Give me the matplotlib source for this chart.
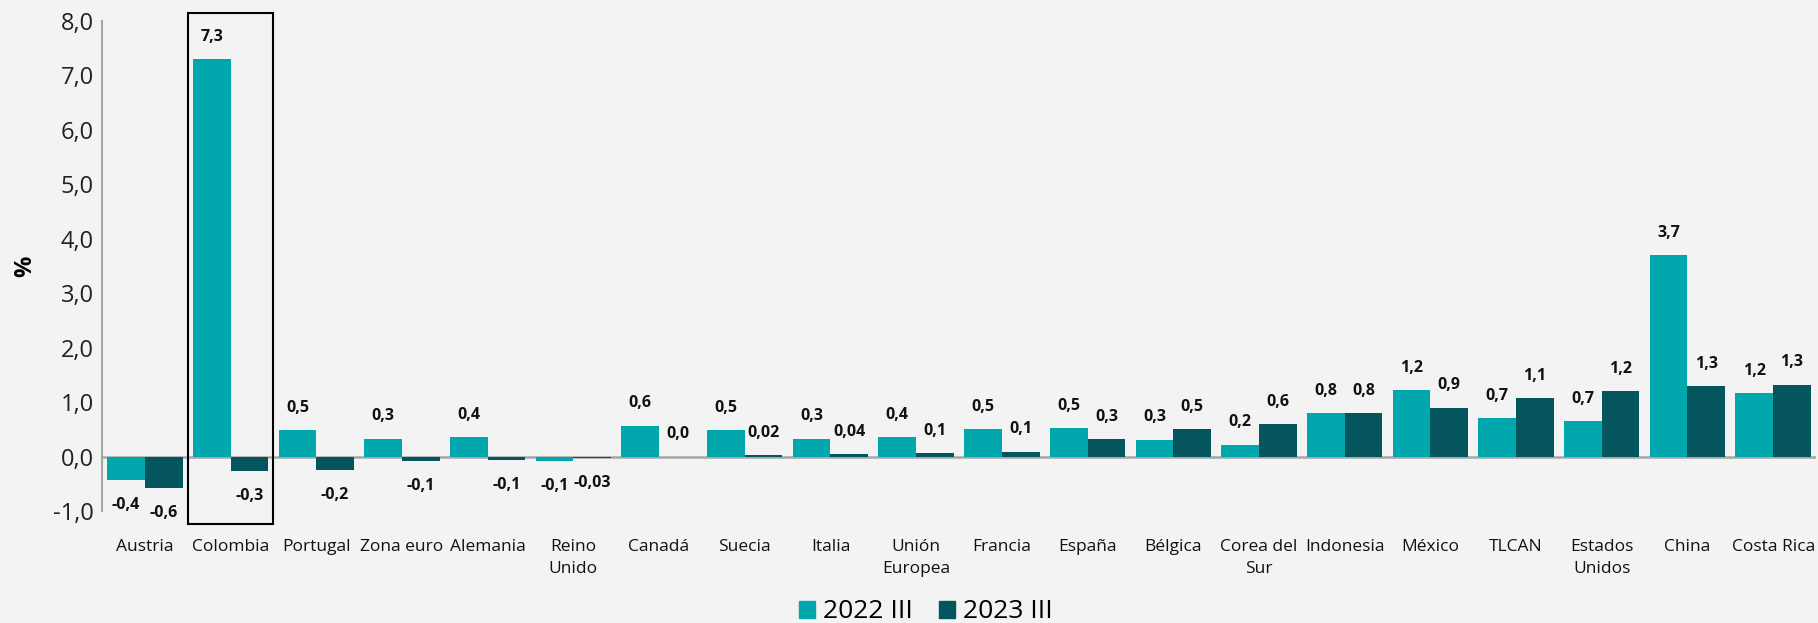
import matplotlib
matplotlib.use("Agg")
import matplotlib.pyplot as plt
from matplotlib.patches import Rectangle, Patch
import numpy as np

plt.rcParams['font.family'] = ['Open Sans', 'DejaVu Sans']

categories = ["Austria", "Colombia", "Portugal", "Zona euro", "Alemania", "Reino\nUnido",
              "Canadá", "Suecia", "Italia", "Unión\nEuropea", "Francia", "España", "Bélgica",
              "Corea del\nSur", "Indonesia", "México", "TLCAN", "Estados\nUnidos", "China", "Costa Rica"]
values_2022 = [-0.43, 7.3, 0.48, 0.33, 0.36, -0.09, 0.57, 0.48, 0.33, 0.36, 0.5, 0.52, 0.31,
               0.22, 0.8, 1.22, 0.7, 0.65, 3.7, 1.17]
values_2023 = [-0.57, -0.27, -0.24, -0.09, -0.07, -0.03, 0.0, 0.02, 0.04, 0.07, 0.09, 0.32, 0.5,
               0.6, 0.8, 0.9, 1.07, 1.2, 1.3, 1.32]
labels_2022 = ["-0,4", "7,3", "0,5", "0,3", "0,4", "-0,1", "0,6", "0,5", "0,3", "0,4", "0,5", "0,5",
               "0,3", "0,2", "0,8", "1,2", "0,7", "0,7", "3,7", "1,2"]
labels_2023 = ["-0,6", "-0,3", "-0,2", "-0,1", "-0,1", "-0,03", "0,0", "0,02", "0,04", "0,1", "0,1",
               "0,3", "0,5", "0,6", "0,8", "0,9", "1,1", "1,2", "1,3", "1,3"]
series_names = ["2022 III", "2023 III"]
yticks = [-1, 0, 1, 2, 3, 4, 5, 6, 7, 8]

c1 = "#00A8AE"
c2 = "#05555E"
bg = "#F3F3F3"

fig = plt.figure(figsize=(18.18, 6.23), dpi=100, facecolor=bg)
ax = fig.add_axes([102/1818, 1-511/623, (1816-102)/1818, (511-21)/623])
ax.set_facecolor(bg)

x = np.arange(len(categories))
w = 0.44
b1 = ax.bar(x - w/2, values_2022, w, color=c1)
b2 = ax.bar(x + w/2, values_2023, w, color=c2)

for bars, vals, labs in ((b1, values_2022, labels_2022), (b2, values_2023, labels_2023)):
    for bar, v, lab in zip(bars, vals, labs):
        cx = bar.get_x() + bar.get_width()/2
        off = 16 if v >= 0 else -18
        ax.annotate(lab, (cx, v), xytext=(0, off), textcoords="offset points",
                    ha="center", va="center", fontsize=11.5, fontweight="bold", color="#111111")

ax.set_xlim(-0.5, len(categories) - 0.5)
ax.set_ylim(-1, 8)
ax.set_yticks(yticks)
ax.set_yticklabels([f"{t:.1f}".replace(".", ",") for t in yticks], fontsize=17, color="#222222")
ax.set_xticks(x)
ax.set_xticklabels(categories, fontsize=12.5, color="#111111", linespacing=1.5)
ax.tick_params(axis="both", length=0)
ax.tick_params(axis="x", pad=20)
ax.tick_params(axis="y", pad=6)

for s in ("top", "right", "bottom"):
    ax.spines[s].set_visible(False)
ax.spines["left"].set_color("#A6A6A6")
ax.spines["left"].set_linewidth(1.5)
ax.axhline(0, color="#A6A6A6", linewidth=1.8, zorder=0.5)

ax.set_ylabel("%", fontsize=17, fontweight="bold", labelpad=11)

# highlight box around Colombia
ax.add_patch(Rectangle((0.5, -1.24), 1.0, 8.15 + 1.24, fill=False, edgecolor="black",
                       linewidth=1.5, clip_on=False, zorder=5))

handles = [Patch(color=c1), Patch(color=c2)]
fig.legend(handles, series_names, loc="center", bbox_to_anchor=(926/1818, 1-612/623),
           ncol=2, frameon=False, fontsize=19, handlelength=0.6, handleheight=0.6,
           handletextpad=0.3, columnspacing=1.0, borderpad=0, borderaxespad=0)

fig.savefig("out.png", dpi=100, facecolor=bg)
